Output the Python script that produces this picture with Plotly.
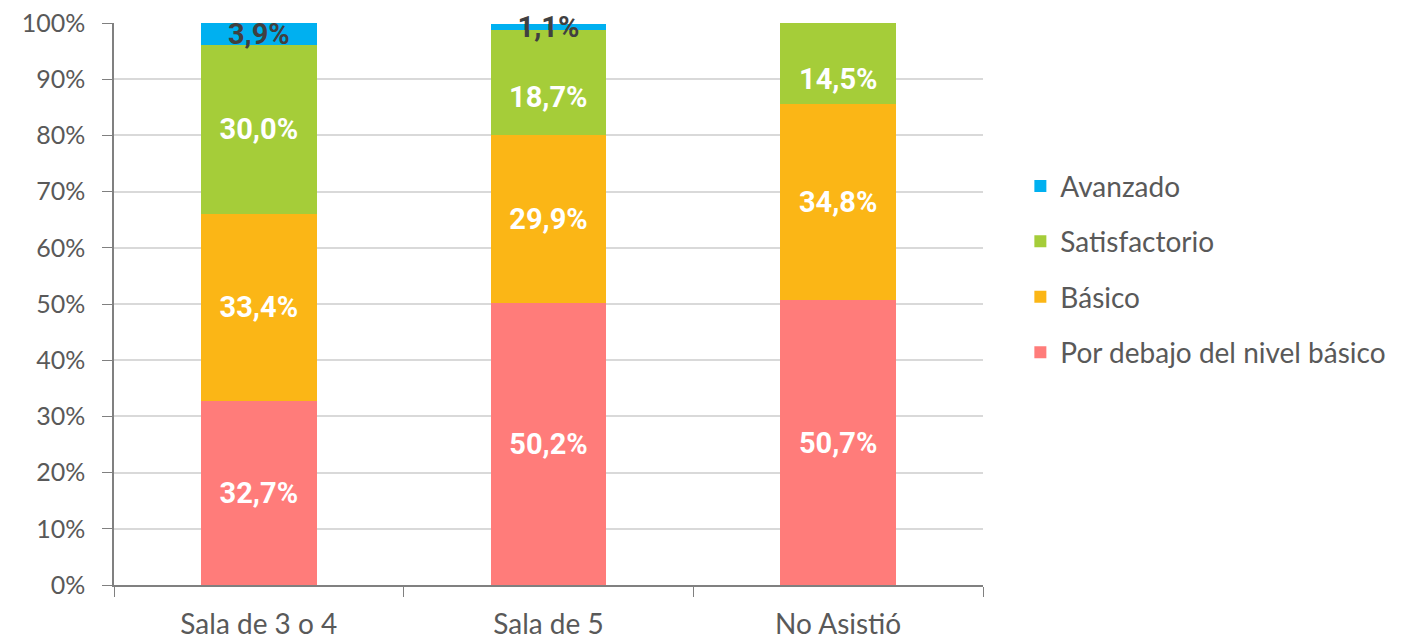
import plotly.graph_objects as go

categories = ["Sala de 3 o 4", "Sala de 5", "No Asistió"]
por_debajo = [32.7, 50.2, 50.7]
basico = [33.4, 29.9, 34.8]
satisfactorio = [30.0, 18.7, 14.5]
avanzado = [3.9, 1.1, 0.0]

series = [
    ("Por debajo del nivel básico", por_debajo, "#FF7C7A", "white", 4),
    ("Básico", basico, "#FBB616", "white", 3),
    ("Satisfactorio", satisfactorio, "#A5CD39", "white", 2),
    ("Avanzado", avanzado, "#00B0F0", "#404040", 1),
]

label_font = "Roboto, Liberation Sans, sans-serif"
axis_font = "Lato, Open Sans, sans-serif"

def fmt(v):
    return f"{v:.1f}%".replace(".", ",") if v > 0 else ""

fig = go.Figure()
for name, vals, color, tcolor, rank in series:
    texts = [fmt(v) for v in vals]
    if name == "Satisfactorio":
        # these two labels sit lower in the original; drawn as annotations below
        texts = [texts[0], "", ""]
    fig.add_trace(go.Bar(
        x=categories, y=vals, name=name, legendgroup=name, legendrank=rank,
        marker=dict(color=color, line=dict(width=0)),
        text=texts, textposition="inside", insidetextanchor="middle",
        constraintext="none", cliponaxis=False,
        textfont=dict(family=label_font, size=29, color=tcolor, weight="bold"),
        hoverinfo="skip",
    ))

# Satisfactorio labels for "Sala de 5" and "No Asistió" (shifted down as in the original)
for i in (1, 2):
    base = por_debajo[i] + basico[i]
    fig.add_annotation(
        x=categories[i], y=base + satisfactorio[i] / 2, text=fmt(satisfactorio[i]),
        showarrow=False, yshift=-15,
        font=dict(family=label_font, size=29, color="white", weight="bold"),
    )

fig.update_layout(
    barmode="stack", bargap=0.6,
    width=1408, height=640,
    margin=dict(l=106, r=433, t=15, b=63, autoexpand=False),
    plot_bgcolor="white", paper_bgcolor="white",
    font=dict(family=axis_font, size=25, color="#595959"),
    legend=dict(
        x=1.043, y=0.754, xanchor="left", yanchor="top",
        traceorder="grouped", tracegroupgap=16,
        font=dict(family=axis_font, size=28, color="#595959"),
        itemwidth=30,
    ),
)
fig.update_yaxes(
    range=[0, 100], dtick=10, ticksuffix="%",
    showgrid=True, gridcolor="#D9D9D9", gridwidth=1.5,
    showline=True, linecolor="#808080", linewidth=1.5,
    ticks="outside", ticklen=10, tickcolor="#808080",
    ticklabelstandoff=12, ticklabeloverflow="allow",
    tickfont=dict(size=25),
    zeroline=False, automargin=False,
)
fig.update_xaxes(
    showline=True, linecolor="#808080", linewidth=1.5,
    ticks="outside", ticklen=10, tickcolor="#808080", tickson="boundaries",
    ticklabelstandoff=14, ticklabeloverflow="allow",
    tickfont=dict(size=28),
    showgrid=False, automargin=False,
)

fig.write_html("out.html")
